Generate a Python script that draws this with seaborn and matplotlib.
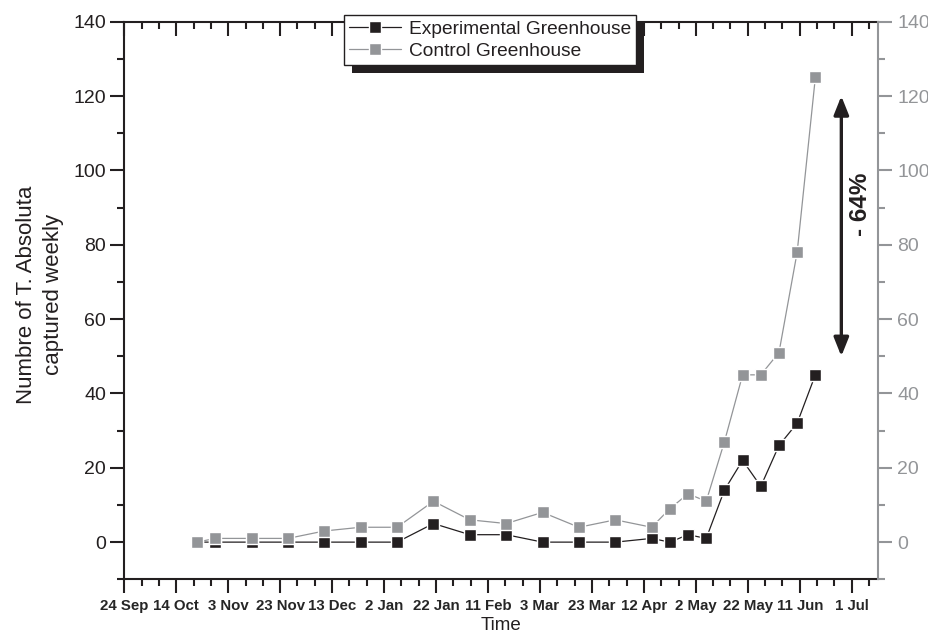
import numpy as np
import pandas as pd
import matplotlib
matplotlib.use("Agg")
import matplotlib.pyplot as plt
import seaborn as sns
from matplotlib import font_manager
from matplotlib.patches import Rectangle
from matplotlib.transforms import IdentityTransform
from matplotlib.ticker import FixedLocator

# ---------------- data ----------------
start_date = "2012-09-24"
sample_dates = ["2012-10-22", "2012-10-29", "2012-11-12", "2012-11-26", "2012-12-10",
                "2012-12-24", "2013-01-07", "2013-01-21", "2013-02-04", "2013-02-18",
                "2013-03-04", "2013-03-18", "2013-04-01", "2013-04-15", "2013-04-22",
                "2013-04-29", "2013-05-06", "2013-05-13", "2013-05-20", "2013-05-27",
                "2013-06-03", "2013-06-10", "2013-06-17"]
experimental = [0, 0, 0, 0, 0, 0, 0, 5, 2, 2, 0, 0, 0, 1, 0, 2, 1, 14, 22, 15, 26, 32, 45]
control = [0, 1, 1, 1, 3, 4, 4, 11, 6, 5, 8, 4, 6, 4, 9, 13, 11, 27, 45, 45, 51, 78, 125]
series_names = ["Experimental Greenhouse", "Control Greenhouse"]
x_tick_labels = ["24 Sep", "14 Oct", "3 Nov", "23 Nov", "13 Dec", "2 Jan", "22 Jan",
                 "11 Feb", "3 Mar", "23 Mar", "12 Apr", "2 May", "22 May", "11 Jun", "1 Jul"]
y_ticks = [0, 20, 40, 60, 80, 100, 120, 140]
arrow_range = (50, 120)
annotation_text = "- 64%"
y_label = "Numbre of T. Absoluta\ncaptured weekly"
x_label = "Time"

# ---------------- styling ----------------
sns.set_style("ticks")
plt.rcParams["font.family"] = ["Liberation Sans", "DejaVu Sans"]


def has_font(name):
    try:
        font_manager.findfont(font_manager.FontProperties(family=name),
                              fallback_to_default=False)
        return True
    except Exception:
        return False


narrow = has_font("Liberation Sans Narrow")
if narrow:
    xt_family, xt_size, ann_size = ["Liberation Sans Narrow", "Liberation Sans"], 12.5, 20
else:
    xt_family, xt_size, ann_size = ["Liberation Sans", "DejaVu Sans"], 10.8, 17.5

BLACK = "#231f20"
GRAY = "#939598"

start = pd.Timestamp(start_date)
days = [(pd.Timestamp(d) - start).days for d in sample_dates]
df = pd.DataFrame({
    "day": days * 2,
    "count": experimental + control,
    "series": [series_names[0]] * len(days) + [series_names[1]] * len(days),
})

fig = plt.figure(figsize=(9.29, 6.35), dpi=100)
ax = fig.add_axes([124.3 / 929, 1 - 579.3 / 635, (877.7 - 124.3) / 929, (579.3 - 21.7) / 635])

sns.lineplot(data=df, x="day", y="count", hue="series", hue_order=series_names,
             palette={series_names[0]: BLACK, series_names[1]: GRAY},
             marker="s", markersize=8.6, markeredgecolor="white", markeredgewidth=1.0,
             linewidth=0.9, ax=ax, legend=False)

major_pos = np.arange(len(x_tick_labels)) * 20
minor_pos = np.concatenate([major_pos[:-1] + 20 / 3, major_pos[:-1] + 40 / 3,
                            [major_pos[-1] + 20 / 3]])

ax.set_xlim(0, 290)
ax.set_ylim(-10, 140)
ax.set_xticks(major_pos)
ax.set_xticklabels(x_tick_labels, fontweight="bold", fontsize=xt_size, family=xt_family)
ax.xaxis.set_minor_locator(FixedLocator(minor_pos))
ax.set_yticks(y_ticks)
ax.yaxis.set_minor_locator(FixedLocator(np.arange(-10, 141, 20)))
ax.tick_params(axis="x", which="major", direction="out", length=10, width=1.5,
               color=BLACK, pad=4)
ax.tick_params(axis="x", which="minor", direction="out", length=5, width=1.5, color=BLACK)
ax.tick_params(axis="y", which="major", direction="out", length=10, width=1.5,
               color=BLACK, labelsize=14, labelcolor=BLACK, pad=3)
ax.tick_params(axis="y", which="minor", direction="out", length=5, width=1.5, color=BLACK)

for s in ["left", "bottom", "top"]:
    ax.spines[s].set_color(BLACK)
    ax.spines[s].set_linewidth(1.5)
ax.spines["right"].set_visible(False)
ax.spines["top"].set_visible(False)

ax.set_xlabel(x_label, fontsize=13.5, color=BLACK)
ax.xaxis.set_label_coords(0.5, -0.067)
ax.set_ylabel(y_label, fontsize=16, color=BLACK, linespacing=1.4)
ax.yaxis.set_label_coords(-0.08, 0.51)

# top axis with inward ticks
sec = ax.secondary_xaxis("top")
sec.set_xticks(major_pos)
sec.xaxis.set_minor_locator(FixedLocator(minor_pos))
sec.tick_params(axis="x", which="major", direction="in", length=10, width=1.5,
                color=BLACK, labeltop=False)
sec.tick_params(axis="x", which="minor", direction="in", length=5, width=1.5, color=BLACK)
sec.spines["top"].set_color(BLACK)
sec.spines["top"].set_linewidth(1.5)

# right axis
ax2 = ax.twinx()
ax2.set_ylim(-10, 140)
ax2.set_yticks(y_ticks)
ax2.yaxis.set_minor_locator(FixedLocator(np.arange(-10, 141, 20)))
ax2.tick_params(axis="y", which="major", direction="out", length=10, width=1.5,
                color=GRAY, labelsize=14, labelcolor=GRAY, pad=4)
ax2.tick_params(axis="y", which="minor", direction="out", length=5, width=1.5, color=GRAY)
for s in ["left", "top", "bottom"]:
    ax2.spines[s].set_visible(False)
ax2.spines["right"].set_color(GRAY)
ax2.spines["right"].set_linewidth(1.5)

# arrow and annotation
ax.annotate("", xy=(276, arrow_range[1]), xytext=(276, arrow_range[0]),
            arrowprops=dict(arrowstyle="<|-|>,head_length=0.8,head_width=0.32",
                            color=BLACK, lw=2.4, mutation_scale=14,
                            shrinkA=0, shrinkB=0))
ax.text(283.5, 91, annotation_text, rotation=90, ha="center", va="center",
        fontweight="bold", fontsize=ann_size, color=BLACK, family=xt_family)

# legend with solid drop shadow
handles = ax.get_lines()[:2]
leg = ax2.legend(handles=handles, labels=series_names, loc="upper left",
                 bbox_to_anchor=(344 / 929, 1 - 15 / 635), bbox_transform=fig.transFigure,
                 borderaxespad=0, frameon=True, fancybox=False, framealpha=1,
                 edgecolor=BLACK, facecolor="white", fontsize=13.8, handlelength=2.7,
                 handletextpad=0.4, borderpad=0.28, labelspacing=0.25, numpoints=1)
leg.get_frame().set_linewidth(1.0)
for t in leg.get_texts():
    t.set_color(BLACK)
leg.set_zorder(10)

fig.canvas.draw()
bb = leg.get_window_extent()
shadow = Rectangle((bb.x0 + 8, bb.y0 - 8), bb.width, bb.height,
                   transform=IdentityTransform(), facecolor=BLACK, edgecolor="none",
                   zorder=9.9, clip_on=False)
ax2.add_artist(shadow)

fig.savefig("out.png", dpi=100)
